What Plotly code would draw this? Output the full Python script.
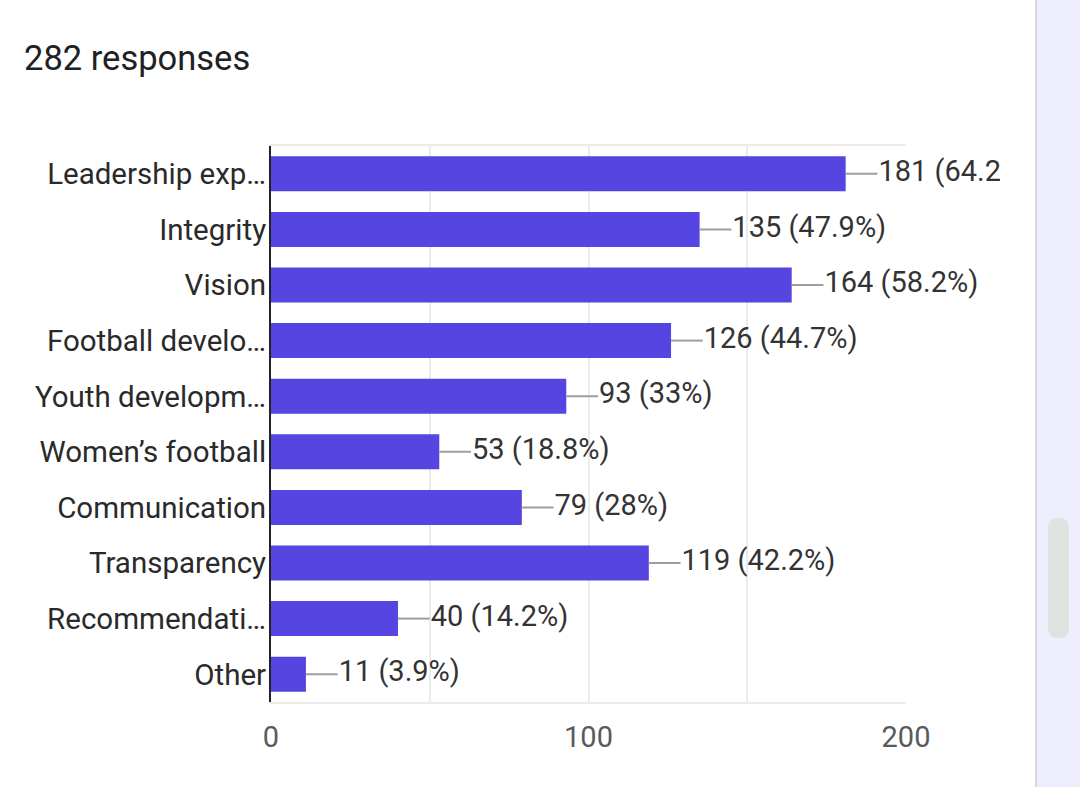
import plotly.graph_objects as go

# survey results
categories = ["Leadership exp…", "Integrity", "Vision", "Football develo…",
              "Youth developm…", "Women’s football", "Communication",
              "Transparency", "Recommendati…", "Other"]
counts = [181, 135, 164, 126, 93, 53, 79, 119, 40, 11]
percents = ["64.2%", "47.9%", "58.2%", "44.7%", "33%", "18.8%", "28%", "42.2%", "14.2%", "3.9%"]
total_responses = 282
x_ticks = [0, 50, 100, 150, 200]
x_tick_text = ["0", "", "100", "", "200"]

W, H = 1080, 787
x0_px, x200_px = 271, 906
top_px, bottom_px = 146, 702
clip_px = 1000
bar_color = "#5645e1"
lead = 10  # leader line length, axis units

labels = [f"{c} ({p})" for c, p in zip(counts, percents)]

line_x, line_y = [], []
for c, cat in zip(counts, categories):
    line_x += [c, c + lead, None]
    line_y += [cat, cat, None]

fig = go.Figure()
fig.add_trace(go.Bar(x=counts, y=categories, orientation="h",
                     marker=dict(color=bar_color, line=dict(width=0)),
                     hoverinfo="skip"))
fig.add_trace(go.Scatter(x=line_x, y=line_y, mode="lines",
                         line=dict(color="#9e9e9e", width=2),
                         hoverinfo="skip", cliponaxis=False))
# labels sit on a wider twin axis so the long one gets clipped like the original
fig.add_trace(go.Scatter(x=[c + lead + 0.3 for c in counts], y=categories,
                         xaxis="x2", mode="text", text=labels,
                         textposition="middle right",
                         textfont=dict(family="Roboto", size=29, color="#333333"),
                         hoverinfo="skip", cliponaxis=True))

dom = [x0_px / W, x200_px / W]
ydom = [1 - bottom_px / H, 1 - top_px / H]
scale = 200 / (x200_px - x0_px)

fig.update_layout(
    width=W, height=H,
    margin=dict(l=0, r=0, t=0, b=0, pad=0),
    paper_bgcolor="white", plot_bgcolor="rgba(0,0,0,0)",
    showlegend=False,
    bargap=0.37,
    title=dict(text=f"{total_responses} responses", x=24 / W, xanchor="left",
               y=1 - 58 / H, yanchor="middle",
               font=dict(family="Roboto", size=34.5, color="#202124")),
    xaxis=dict(domain=dom, range=[0, 200], tickvals=x_ticks, ticktext=x_tick_text,
               showgrid=True, gridcolor="#ebebeb", gridwidth=2,
               showline=True, linecolor="#ebebeb", linewidth=2, mirror=True,
               zeroline=False, ticks="", ticklabelstandoff=8, automargin=False,
               tickfont=dict(family="Roboto", size=29, color="#5a5a5a")),
    xaxis2=dict(domain=[x0_px / W, clip_px / W], range=[0, (clip_px - x0_px) * scale],
                anchor="y", visible=False, showgrid=False, zeroline=False,
                automargin=False),
    yaxis=dict(domain=ydom, autorange="reversed", showgrid=False,
               showline=True, linecolor="#222222", linewidth=2,
               ticks="", ticklabelstandoff=-3, anchor="x", automargin=False,
               tickfont=dict(family="Roboto", size=29.5, color="#2a2a2a")),
    shapes=[
        dict(type="rect", xref="paper", yref="paper", x0=1035 / W, x1=1, y0=0, y1=1,
             fillcolor="#efeefc", line=dict(width=0), layer="below"),
        dict(type="line", xref="paper", yref="paper", x0=1036 / W, x1=1036 / W, y0=0, y1=1,
             line=dict(color="#d9d7ea", width=2)),
        dict(type="path", xref="paper", yref="paper",
             path=(f"M {1048/W} {1-528/H} Q {1048/W} {1-518/H} {1058.5/W} {1-518/H} "
                   f"Q {1069/W} {1-518/H} {1069/W} {1-528/H} L {1069/W} {1-628/H} "
                   f"Q {1069/W} {1-638/H} {1058.5/W} {1-638/H} "
                   f"Q {1048/W} {1-638/H} {1048/W} {1-628/H} Z"),
             fillcolor="#e0e2df", line=dict(width=0)),
    ],
)

fig.write_html("out.html", config={"displayModeBar": False},
               post_script="document.body.style.margin='0';document.body.style.overflow='hidden';")
